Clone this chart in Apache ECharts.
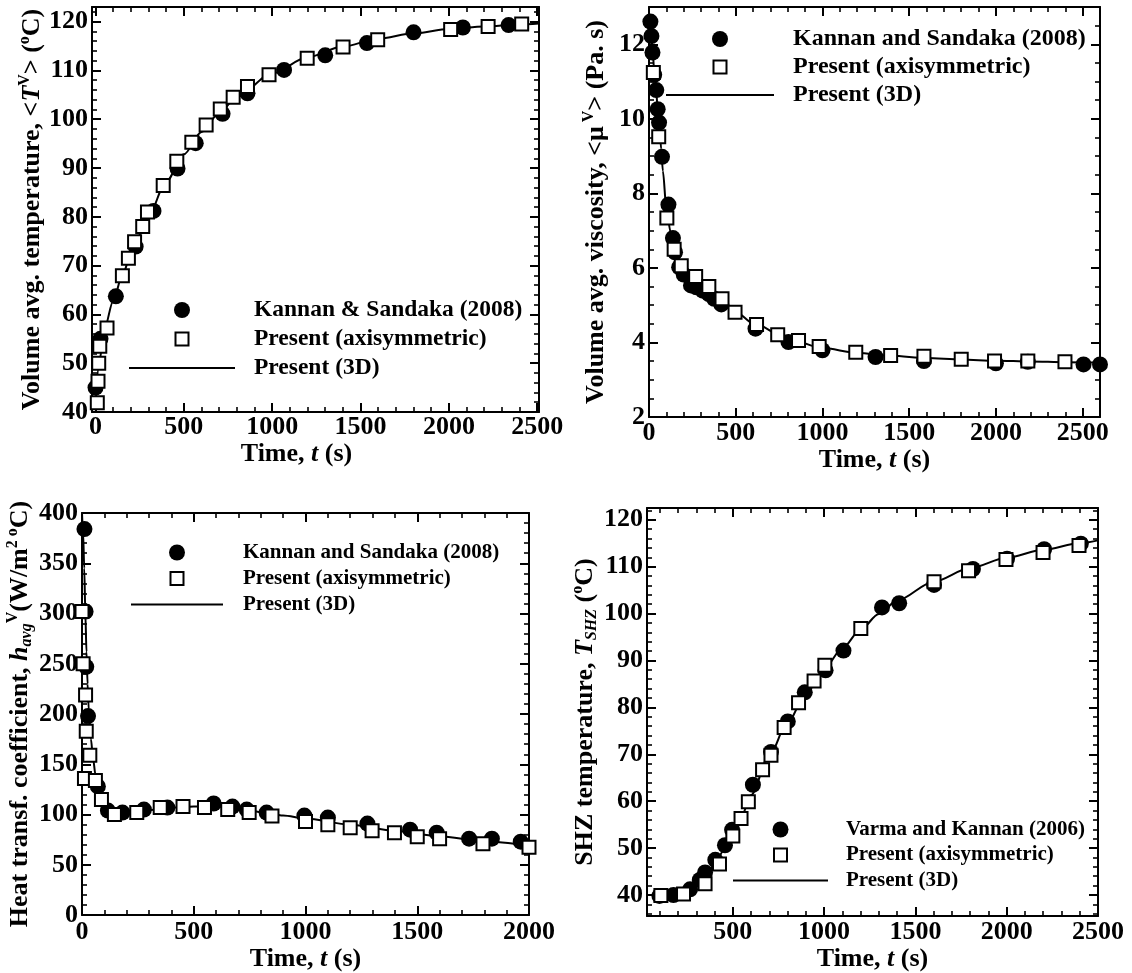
<!DOCTYPE html>
<html>
<head>
<meta charset="utf-8">
<title>Heating history comparison</title>
<script src="https://cdn.jsdelivr.net/npm/echarts@6/dist/echarts.min.js"></script>
<style>
  html, body { margin: 0; padding: 0; background: #fff; }
  #chart { width: 1132px; height: 973px; }
</style>
</head>
<body>
<div id="chart"></div>
<script>
// --- panel 1: volume avg. temperature ---
const tempRefT = [0, 28, 115, 227, 328, 464, 567, 719, 860, 1067, 1300, 1536, 1800, 2079, 2338];
const tempRefV = [45.0, 55.0, 63.7, 73.9, 81.2, 89.9, 95.1, 101.1, 105.3, 110.1, 113.1, 115.6, 117.8, 118.8, 119.3];
const tempAxiT = [10, 14, 18, 24, 65, 152, 186, 221, 267, 294, 383, 460, 545, 626, 706, 779, 860, 982, 1198, 1401, 1597, 2010, 2222, 2412];
const tempAxiV = [41.9, 46.3, 50.0, 53.5, 57.2, 67.9, 71.5, 74.9, 78.0, 81.0, 86.4, 91.4, 95.3, 98.8, 102.1, 104.5, 106.7, 109.1, 112.5, 114.8, 116.3, 118.4, 119.0, 119.5];
const temp3dT = [0, 20, 50, 100, 150, 200, 300, 400, 500, 600, 700, 800, 1000, 1200, 1400, 1600, 1800, 2000, 2200, 2400, 2510];
const temp3dV = [41, 50, 57, 62.8, 67.8, 72.3, 80.3, 87.2, 92.8, 97.4, 101.3, 104.6, 109.4, 112.7, 114.9, 116.5, 117.6, 118.5, 119.0, 119.4, 119.6];

// --- panel 2: volume avg. viscosity ---
const viscRefT = [8, 14, 20, 30, 42, 50, 58, 75, 112, 138, 150, 174, 200, 242, 273, 310, 345, 376, 417, 614, 804, 1000, 1306, 1585, 2000, 2184, 2505, 2600];
const viscRefV = [12.61, 12.22, 11.78, 11.18, 10.77, 10.26, 9.9, 8.98, 7.7, 6.8, 6.42, 6.02, 5.82, 5.53, 5.48, 5.39, 5.3, 5.17, 5.02, 4.37, 4.01, 3.79, 3.61, 3.5, 3.44, 3.48, 3.41, 3.41];
const viscAxiT = [25, 56, 103, 145, 186, 269, 345, 421, 496, 620, 742, 862, 981, 1192, 1393, 1585, 1800, 1992, 2184, 2398];
const viscAxiV = [11.24, 9.52, 7.34, 6.5, 6.06, 5.77, 5.5, 5.17, 4.81, 4.48, 4.21, 4.05, 3.89, 3.74, 3.65, 3.63, 3.55, 3.5, 3.5, 3.48];
const visc3dT = [0, 10, 20, 30, 40, 50, 60, 70, 80, 100, 125, 150, 200, 250, 300, 400, 500, 600, 800, 1000, 1200, 1400, 1600, 1800, 2000, 2200, 2400, 2600];
const visc3dV = [12.8, 12.4, 11.9, 11.3, 10.8, 10.3, 9.8, 9.2, 8.6, 7.6, 6.95, 6.45, 5.95, 5.65, 5.45, 5.15, 4.82, 4.52, 4.1, 3.85, 3.72, 3.64, 3.58, 3.54, 3.51, 3.49, 3.47, 3.46];

// --- panel 3: heat transfer coefficient ---
const htcRefT = [11, 16, 19, 27, 71, 116, 181, 277, 382, 589, 673, 737, 826, 995, 1100, 1277, 1468, 1587, 1732, 1834, 1963];
const htcRefV = [384, 302, 247, 198, 128, 104, 102, 105, 107, 111, 108, 105, 102, 99, 97, 91, 85, 82, 76, 76, 73];
const htcAxiT = [0, 5, 16, 19, 35, 11, 60, 87, 145, 245, 350, 452, 548, 652, 748, 850, 1000, 1100, 1200, 1298, 1398, 1500, 1600, 1794, 2000];
const htcAxiV = [302, 250, 219, 183, 159, 136, 134, 115, 100, 102, 107, 108, 107, 105, 102, 98.5, 93, 90, 87, 84, 82, 78, 76, 71, 67.6];
const htc3dT = [0, 5, 10, 15, 20, 25, 30, 40, 50, 60, 80, 100, 130, 160, 200, 300, 400, 500, 600, 700, 800, 900, 1000, 1200, 1400, 1600, 1800, 2000];
const htc3dV = [400, 380, 345, 300, 262, 230, 205, 175, 155, 140, 122, 111, 103, 101, 101.5, 104.5, 107, 108, 108, 106, 102.5, 99, 96, 90, 84, 78.5, 73.5, 69];

// --- panel 4: SHZ temperature ---
const shzRefT = [98, 175, 266, 319, 348, 404, 457, 496, 610, 709, 801, 894, 1008, 1106, 1317, 1411, 1602, 1815, 2002, 2205, 2406];
const shzRefV = [39.8, 40.0, 41.2, 43.2, 44.8, 47.5, 50.6, 53.9, 63.5, 70.5, 77, 83.2, 87.9, 92.1, 101.3, 102.2, 106.1, 109.5, 111.7, 113.7, 114.9];
const shzAxiT = [106, 230, 348, 427, 500, 545, 585, 663, 709, 781, 860, 945, 1004, 1201, 1602, 1791, 1996, 2199, 2396];
const shzAxiV = [39.9, 40.2, 42.4, 46.6, 52.6, 56.3, 59.9, 66.7, 69.8, 75.7, 81, 85.6, 89, 96.8, 106.8, 109.1, 111.5, 113, 114.5];
const shz3dT = [30, 100, 200, 250, 300, 350, 400, 450, 500, 550, 600, 700, 800, 900, 1000, 1100, 1200, 1300, 1400, 1600, 1800, 2000, 2200, 2400, 2500];
const shz3dV = [40, 40, 40.3, 41, 42.3, 44.2, 46.5, 49.5, 53, 57, 61.3, 69.8, 76.8, 82.8, 88.2, 92.6, 96.6, 99.9, 102.8, 106.8, 109.7, 111.9, 113.6, 115, 115.6];

// tick labels
const timeLabels2500 = [0, 500, 1000, 1500, 2000, 2500];
const timeLabels2000 = [0, 500, 1000, 1500, 2000];
const shzTimeLabels = [500, 1000, 1500, 2000, 2500];
const tempLabels = [40, 50, 60, 70, 80, 90, 100, 110, 120];
const viscLabels = [2, 4, 6, 8, 10, 12];
const htcLabels = [0, 50, 100, 150, 200, 250, 300, 350, 400];

const AXI = 'Present (axisymmetric)';
const D3 = 'Present (3D)';

const SERIF = '"Liberation Serif", "Times New Roman", serif';

function range(from, to, step) {
  const out = [];
  for (let v = from; v <= to + 1e-9; v += step) out.push(Math.round(v * 1000) / 1000);
  return out;
}
function zip(xs, ys) { return xs.map((x, i) => [x, ys[i]]); }

// legend square centred in a wide icon box (keeps it square)
function squareIcon(w, h, s) {
  const x = (w - s) / 2, y = (h - s) / 2;
  return `path://M0,0M${w},${h}M${x},${y}h${s}v${s}h-${s}Z`;
}

const rich = {
  n: { fontFamily: SERIF, fontWeight: 'bold', fontSize: 26, color: '#000', lineHeight: 30 },
  it: { fontFamily: SERIF, fontWeight: 'bold', fontStyle: 'italic', fontSize: 26, color: '#000', lineHeight: 30 },
  sup: { fontFamily: SERIF, fontWeight: 'bold', fontSize: 16, color: '#000', lineHeight: 16, verticalAlign: 'top' },
  sub: { fontFamily: SERIF, fontWeight: 'bold', fontStyle: 'italic', fontSize: 16, color: '#000', lineHeight: 16, verticalAlign: 'bottom' }
};

const timeName = '{n|Time, }{it|t}{n| (s)}';

const panels = [
  {
    grid: { left: 92, top: 7, width: 447, height: 405 },
    x: { min: -20, max: 2510, major: timeLabels2500, minor: range(0, 2500, 100), labels: timeLabels2500, gap: 15, margin: 2, namePad: [0, 38, 0, 0] },
    y: { min: 40, max: 123, major: tempLabels, minor: range(40, 122, 2), labels: tempLabels, gap: 40, margin: 4 },
    yName: '{n|Volume avg. temperature, <}{it|T}{sup|V}{n|> (}{sup|o}{n|C)}',
    refName: 'Kannan & Sandaka (2008)',
    legend: { left: 128, top: 298, itemWidth: 106, itemGap: 5, fontSize: 23.5, pad: 14 },
    ref: zip(tempRefT, tempRefV), axi: zip(tempAxiT, tempAxiV), d3: zip(temp3dT, temp3dV)
  },
  {
    grid: { left: 649, top: 7, width: 451, height: 410 },
    x: { min: 0, max: 2600, major: timeLabels2500, minor: range(0, 2600, 100), labels: timeLabels2500, gap: 16, margin: 3 },
    y: { min: 2, max: 13, major: viscLabels, minor: range(2, 13, 0.5), labels: viscLabels, gap: 38, margin: 4 },
    yName: '{n|Volume avg. viscosity, <μ}{sup| V}{n|> (Pa. s)}',
    refName: 'Kannan and Sandaka (2008)',
    legend: { left: 665, top: 27, itemWidth: 108, itemGap: 4, fontSize: 24, pad: 14 },
    ref: zip(viscRefT, viscRefV), axi: zip(viscAxiT, viscAxiV), d3: zip(visc3dT, visc3dV)
  },
  {
    grid: { left: 82, top: 513, width: 447, height: 408 },
    x: { min: 0, max: 2000, major: timeLabels2000, minor: range(0, 2000, 100), labels: timeLabels2000, gap: 11, margin: 4 },
    y: { min: 0, max: 400, major: htcLabels, minor: range(0, 400, 10), labels: htcLabels, gap: 43, margin: 4 },
    yName: '{n|Heat transf. coefficient, }{it|h}{sub|avg}{sup|V}{n|(W/m}{sup|2 o}{n|C)}',
    refName: 'Kannan and Sandaka (2008)',
    legend: { left: 130, top: 542, itemWidth: 92, itemGap: 5, fontSize: 21, pad: 15 },
    ref: zip(htcRefT, htcRefV), axi: zip(htcAxiT, htcAxiV), d3: zip(htc3dT, htc3dV)
  },
  {
    grid: { left: 647, top: 508, width: 451, height: 412 },
    x: { min: 30, max: 2500, major: shzTimeLabels, minor: range(100, 2500, 100), labels: shzTimeLabels, gap: 26, margin: 3 },
    y: { min: 35.5, max: 122.5, major: tempLabels, minor: range(36, 122, 2), labels: tempLabels, gap: 46, margin: 4 },
    yName: '{n|SHZ temperature, }{it|T}{sub|SHZ}{n| (}{sup|o}{n|C)}',
    refName: 'Varma and Kannan (2006)',
    legend: { left: 732, top: 819, itemWidth: 95, itemGap: 4.5, fontSize: 21, pad: 13 },
    ref: zip(shzRefT, shzRefV), axi: zip(shzAxiT, shzAxiV), d3: zip(shz3dT, shz3dV)
  }
];

const labelFont = { fontFamily: SERIF, fontWeight: 'bold', fontSize: 26, color: '#000' };
const LEGEND_H = 16;

// each side of the frame gets a major-tick axis and a minor-tick axis
function frameAxes(dim, gi, ax, name) {
  const sides = dim === 'x' ? ['bottom', 'top'] : ['left', 'right'];
  const out = [];
  sides.forEach((pos, i) => {
    const main = i === 0;
    out.push({
      type: 'value', gridIndex: gi, position: pos, min: ax.min, max: ax.max,
      axisLine: { show: true, onZero: false, lineStyle: { color: '#000', width: 2 } },
      axisTick: { show: true, inside: true, length: 9, customValues: ax.major, lineStyle: { color: '#000', width: 2 } },
      axisLabel: main
        ? { show: true, customValues: ax.labels, margin: ax.margin, formatter: v => String(v), ...labelFont }
        : { show: false },
      splitLine: { show: false },
      name: main ? name : '',
      nameLocation: 'middle',
      nameGap: ax.gap,
      nameRotate: dim === 'y' ? 90 : 0,
      nameTextStyle: { ...labelFont, rich: rich, padding: ax.namePad || 0 }
    });
    out.push({
      type: 'value', gridIndex: gi, position: pos, min: ax.min, max: ax.max,
      axisLine: { show: false, onZero: false },
      axisTick: { show: true, inside: true, length: 5, customValues: ax.minor, lineStyle: { color: '#000', width: 1.6 } },
      axisLabel: { show: false },
      splitLine: { show: false }
    });
  });
  return out;
}

const grids = [], xAxes = [], yAxes = [], series = [], legends = [];

panels.forEach((p, gi) => {
  grids.push({ ...p.grid, containLabel: false });
  xAxes.push(...frameAxes('x', gi, p.x, timeName));
  yAxes.push(...frameAxes('y', gi, p.y, p.yName));
  const axisIdx = { xAxisIndex: gi * 4, yAxisIndex: gi * 4 };
  series.push({
    name: D3, type: 'line', ...axisIdx, data: p.d3,
    smooth: 0.3, smoothMonotone: 'x', symbol: 'none',
    lineStyle: { color: '#000', width: 2 },
    // transparent so the legend shows only the line
    itemStyle: { color: 'rgba(0,0,0,0)', borderWidth: 0 },
    z: 2
  });
  series.push({
    name: p.refName, type: 'scatter', ...axisIdx, data: p.ref,
    symbol: 'circle', symbolSize: 16, itemStyle: { color: '#000', opacity: 1 }, z: 3
  });
  series.push({
    name: AXI, type: 'scatter', ...axisIdx, data: p.axi,
    symbol: 'rect', symbolSize: 13,
    itemStyle: { color: '#fff', borderColor: '#000', borderWidth: 2, opacity: 1 }, z: 4
  });
  legends.push({
    orient: 'vertical', left: p.legend.left, top: p.legend.top, padding: 0,
    itemWidth: p.legend.itemWidth, itemHeight: LEGEND_H, itemGap: p.legend.itemGap,
    selectedMode: false,
    data: [
      p.refName,
      { name: AXI, icon: squareIcon(p.legend.itemWidth, LEGEND_H, 13) },
      D3
    ],
    textStyle: {
      fontFamily: SERIF, fontWeight: 'bold', fontSize: p.legend.fontSize, color: '#000',
      padding: [0, 0, 0, p.legend.pad]
    }
  });
});

const chart = echarts.init(document.getElementById('chart'), null, { renderer: 'canvas' });
chart.setOption({
  backgroundColor: '#fff',
  animation: false,
  grid: grids,
  xAxis: xAxes,
  yAxis: yAxes,
  legend: legends,
  series: series
});
</script>
</body>
</html>
